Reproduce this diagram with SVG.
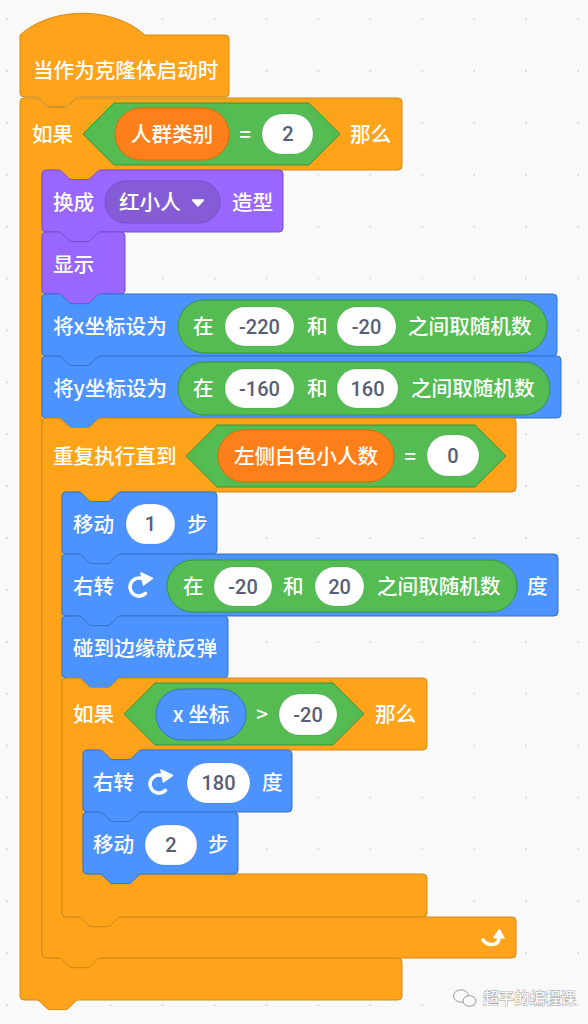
<svg xmlns="http://www.w3.org/2000/svg" width="588" height="1024" viewBox="0 0 588 1024">
<style>
.ctl{fill:#FFA31B;stroke:#CF8B17;stroke-width:1}
.lks{fill:#9966FF;stroke:#774DCB;stroke-width:1}
.mot{fill:#4C93FF;stroke:#3373CC;stroke-width:1}
.op{fill:#54BC52;stroke:#389438;stroke-width:1}
.var{fill:#FF7F1A;stroke:#DB6E00;stroke-width:1}
.dd{fill:#855CD6;stroke:#774DCB;stroke-width:1}
.inp{fill:#FFFFFF;stroke:rgba(0,0,0,0.08);stroke-width:1}
.lbl{font-family:"Noto Sans CJK SC","Noto Sans",sans-serif;font-size:20.6px;font-weight:500;fill:#FFFFFF}
.num{font-family:Roboto,"Liberation Sans",sans-serif;font-size:20px;font-weight:500;fill:#575E75;text-anchor:middle}
.mid{text-anchor:middle}
.ico{fill:none;stroke:#FFFFFF;stroke-width:3.6;stroke-linecap:round}
.icf{fill:#FFFFFF;stroke:#FFFFFF;stroke-width:1.5;stroke-linejoin:round}
.wm{font-family:"Noto Sans CJK SC",sans-serif;font-size:15.5px;font-weight:500;fill:#FAFAFA;stroke:#9A9A9A;stroke-width:0.9;paint-order:stroke}
</style>
<defs>
<pattern id="dots" x="-18.95" y="-6.95" width="51.9" height="51.9" patternUnits="userSpaceOnUse">
<circle cx="25.95" cy="25.95" r="1.1" fill="#D6D6D6"/>
</pattern>
<g id="rot">
<path class="ico" d="M 0.3,-7.7 A 9 9 0 1 0 4.4,7.4"/>
<polygon class="icf" points="0,-13 11.5,-7.5 2.5,-1"/>
</g>
</defs>
<rect width="588" height="1024" fill="#F9F9F9"/>
<rect width="588" height="1024" fill="url(#dots)"/>

<g id="connectors"/>

<g id="hat">
<path class="ctl" d="M 20,35 c 32,-29 93,-29 125,0 H 225 a4,4 0 0 1 4,4 V 93 a4,4 0 0 1 -4,4 H 79.2 c -2.4,0 -3.6,1.2 -4.8,2.4 l -4.8,4.8 c -1.2,1.2 -2.4,2.4 -4.8,2.4 h -14.4 c -2.4,0 -3.6,-1.2 -4.8,-2.4 l -4.8,-4.8 c -1.2,-1.2 -2.4,-2.4 -4.8,-2.4 H 24 a4,4 0 0 1 -4,-4 Z"/>
<text class="lbl" x="33" y="77.5">当作为克隆体启动时</text>
</g>

<g id="if-outer">
<path class="ctl" d="M 20,102 a4,4 0 0 1 4,-4 H 36 c 2.4,0 3.6,1.2 4.8,2.4 l 4.8,4.8 c 1.2,1.2 2.4,2.4 4.8,2.4 h 14.4 c 2.4,0 3.6,-1.2 4.8,-2.4 l 4.8,-4.8 c 1.2,-1.2 2.4,-2.4 4.8,-2.4 H 398 a4,4 0 0 1 4,4 V 166 a4,4 0 0 1 -4,4 H 101.2 c -2.4,0 -3.6,1.2 -4.8,2.4 l -4.8,4.8 c -1.2,1.2 -2.4,2.4 -4.8,2.4 h -14.4 c -2.4,0 -3.6,-1.2 -4.8,-2.4 l -4.8,-4.8 c -1.2,-1.2 -2.4,-2.4 -4.8,-2.4 H 46 a4,4 0 0 0 -4,4 V 954 a4,4 0 0 0 4,4 H 58 c 2.4,0 3.6,1.2 4.8,2.4 l 4.8,4.8 c 1.2,1.2 2.4,2.4 4.8,2.4 h 14.4 c 2.4,0 3.6,-1.2 4.8,-2.4 l 4.8,-4.8 c 1.2,-1.2 2.4,-2.4 4.8,-2.4 H 398 a4,4 0 0 1 4,4 V 996 a4,4 0 0 1 -4,4 H 79.2 c -2.4,0 -3.6,1.2 -4.8,2.4 l -4.8,4.8 c -1.2,1.2 -2.4,2.4 -4.8,2.4 h -14.4 c -2.4,0 -3.6,-1.2 -4.8,-2.4 l -4.8,-4.8 c -1.2,-1.2 -2.4,-2.4 -4.8,-2.4 H 24 a4,4 0 0 1 -4,-4 Z"/>
<text class="lbl" x="32" y="141.6">如果</text>
<polygon class="op" points="83,134 114,103 309,103 340,134 309,165 114,165"/>
<rect class="var" x="115" y="108" width="114" height="52" rx="26"/>
<text class="lbl mid" x="172" y="141.6">人群类别</text>
<text class="lbl mid" x="245" y="141.6">=</text>
<rect class="inp" x="262" y="114" width="51" height="40" rx="20"/>
<text class="num" x="288" y="141.2">2</text>
<text class="lbl" x="350" y="141.6">那么</text>
</g>

<g id="switch-costume">
<path class="lks" d="M 42,174 a4,4 0 0 1 4,-4 H 58 c 2.4,0 3.6,1.2 4.8,2.4 l 4.8,4.8 c 1.2,1.2 2.4,2.4 4.8,2.4 h 14.4 c 2.4,0 3.6,-1.2 4.8,-2.4 l 4.8,-4.8 c 1.2,-1.2 2.4,-2.4 4.8,-2.4 H 279 a4,4 0 0 1 4,4 V 228 a4,4 0 0 1 -4,4 H 101.2 c -2.4,0 -3.6,1.2 -4.8,2.4 l -4.8,4.8 c -1.2,1.2 -2.4,2.4 -4.8,2.4 h -14.4 c -2.4,0 -3.6,-1.2 -4.8,-2.4 l -4.8,-4.8 c -1.2,-1.2 -2.4,-2.4 -4.8,-2.4 H 46 a4,4 0 0 1 -4,-4 Z"/>
<text class="lbl" x="53" y="210">换成</text>
<rect class="dd" x="105" y="181" width="115" height="42" rx="21"/>
<text class="lbl" x="119" y="210">红小人</text>
<polygon points="192.5,200 203.5,200 198,206" fill="#FFFFFF" stroke="#FFFFFF" stroke-width="1.5" stroke-linejoin="round"/>
<text class="lbl" x="232" y="210">造型</text>
</g>

<g id="show">
<path class="lks" d="M 42,236 a4,4 0 0 1 4,-4 H 58 c 2.4,0 3.6,1.2 4.8,2.4 l 4.8,4.8 c 1.2,1.2 2.4,2.4 4.8,2.4 h 14.4 c 2.4,0 3.6,-1.2 4.8,-2.4 l 4.8,-4.8 c 1.2,-1.2 2.4,-2.4 4.8,-2.4 H 121 a4,4 0 0 1 4,4 V 290 a4,4 0 0 1 -4,4 H 101.2 c -2.4,0 -3.6,1.2 -4.8,2.4 l -4.8,4.8 c -1.2,1.2 -2.4,2.4 -4.8,2.4 h -14.4 c -2.4,0 -3.6,-1.2 -4.8,-2.4 l -4.8,-4.8 c -1.2,-1.2 -2.4,-2.4 -4.8,-2.4 H 46 a4,4 0 0 1 -4,-4 Z"/>
<text class="lbl" x="53" y="272">显示</text>
</g>

<g id="set-x">
<path class="mot" d="M 42,298 a4,4 0 0 1 4,-4 H 58 c 2.4,0 3.6,1.2 4.8,2.4 l 4.8,4.8 c 1.2,1.2 2.4,2.4 4.8,2.4 h 14.4 c 2.4,0 3.6,-1.2 4.8,-2.4 l 4.8,-4.8 c 1.2,-1.2 2.4,-2.4 4.8,-2.4 H 553 a4,4 0 0 1 4,4 V 352 a4,4 0 0 1 -4,4 H 101.2 c -2.4,0 -3.6,1.2 -4.8,2.4 l -4.8,4.8 c -1.2,1.2 -2.4,2.4 -4.8,2.4 h -14.4 c -2.4,0 -3.6,-1.2 -4.8,-2.4 l -4.8,-4.8 c -1.2,-1.2 -2.4,-2.4 -4.8,-2.4 H 46 a4,4 0 0 1 -4,-4 Z"/>
<text class="lbl" x="53" y="334">将x坐标设为</text>
<rect class="op" x="178" y="300" width="369" height="53" rx="26.5"/>
<text class="lbl" x="193" y="334">在</text>
<rect class="inp" x="225" y="307" width="69" height="39" rx="19.5"/>
<text class="num" x="259.5" y="333.6">-220</text>
<text class="lbl" x="307" y="334">和</text>
<rect class="inp" x="337" y="307" width="59" height="39" rx="19.5"/>
<text class="num" x="366.5" y="333.6">-20</text>
<text class="lbl" x="408" y="334">之间取随机数</text>
</g>

<g id="set-y">
<path class="mot" d="M 42,360 a4,4 0 0 1 4,-4 H 58 c 2.4,0 3.6,1.2 4.8,2.4 l 4.8,4.8 c 1.2,1.2 2.4,2.4 4.8,2.4 h 14.4 c 2.4,0 3.6,-1.2 4.8,-2.4 l 4.8,-4.8 c 1.2,-1.2 2.4,-2.4 4.8,-2.4 H 557 a4,4 0 0 1 4,4 V 414 a4,4 0 0 1 -4,4 H 101.2 c -2.4,0 -3.6,1.2 -4.8,2.4 l -4.8,4.8 c -1.2,1.2 -2.4,2.4 -4.8,2.4 h -14.4 c -2.4,0 -3.6,-1.2 -4.8,-2.4 l -4.8,-4.8 c -1.2,-1.2 -2.4,-2.4 -4.8,-2.4 H 46 a4,4 0 0 1 -4,-4 Z"/>
<text class="lbl" x="53" y="396">将y坐标设为</text>
<rect class="op" x="178" y="362" width="372" height="53" rx="26.5"/>
<text class="lbl" x="193" y="396">在</text>
<rect class="inp" x="225" y="369" width="69" height="39" rx="19.5"/>
<text class="num" x="259.5" y="395.6">-160</text>
<text class="lbl" x="307" y="396">和</text>
<rect class="inp" x="337" y="369" width="61" height="39" rx="19.5"/>
<text class="num" x="367.5" y="395.6">160</text>
<text class="lbl" x="411" y="396">之间取随机数</text>
</g>

<g id="repeat-until">
<path class="ctl" d="M 42,422 a4,4 0 0 1 4,-4 H 58 c 2.4,0 3.6,1.2 4.8,2.4 l 4.8,4.8 c 1.2,1.2 2.4,2.4 4.8,2.4 h 14.4 c 2.4,0 3.6,-1.2 4.8,-2.4 l 4.8,-4.8 c 1.2,-1.2 2.4,-2.4 4.8,-2.4 H 512 a4,4 0 0 1 4,4 V 488 a4,4 0 0 1 -4,4 H 121.2 c -2.4,0 -3.6,1.2 -4.8,2.4 l -4.8,4.8 c -1.2,1.2 -2.4,2.4 -4.8,2.4 h -14.4 c -2.4,0 -3.6,-1.2 -4.8,-2.4 l -4.8,-4.8 c -1.2,-1.2 -2.4,-2.4 -4.8,-2.4 H 66 a4,4 0 0 0 -4,4 V 913 a4,4 0 0 0 4,4 H 78 c 2.4,0 3.6,1.2 4.8,2.4 l 4.8,4.8 c 1.2,1.2 2.4,2.4 4.8,2.4 h 14.4 c 2.4,0 3.6,-1.2 4.8,-2.4 l 4.8,-4.8 c 1.2,-1.2 2.4,-2.4 4.8,-2.4 H 512 a4,4 0 0 1 4,4 V 954 a4,4 0 0 1 -4,4 H 101.2 c -2.4,0 -3.6,1.2 -4.8,2.4 l -4.8,4.8 c -1.2,1.2 -2.4,2.4 -4.8,2.4 h -14.4 c -2.4,0 -3.6,-1.2 -4.8,-2.4 l -4.8,-4.8 c -1.2,-1.2 -2.4,-2.4 -4.8,-2.4 H 46 a4,4 0 0 1 -4,-4 Z"/>
<text class="lbl" x="53" y="463.6">重复执行直到</text>
<polygon class="op" points="186,456 217,425 475,425 506,456 475,487 217,487"/>
<rect class="var" x="218" y="430" width="176" height="52" rx="26"/>
<text class="lbl mid" x="306" y="463.6">左侧白色小人数</text>
<text class="lbl mid" x="410" y="463.6">=</text>
<rect class="inp" x="427" y="435" width="52" height="41" rx="20.5"/>
<text class="num" x="453" y="463.2">0</text>
<path class="ico" d="M 483,940 C 487,946 499,947 499,937"/>
<polygon class="icf" points="494,937.5 499.5,929.5 504,938"/>
</g>

<g id="move-1">
<path class="mot" d="M 62,496 a4,4 0 0 1 4,-4 H 78 c 2.4,0 3.6,1.2 4.8,2.4 l 4.8,4.8 c 1.2,1.2 2.4,2.4 4.8,2.4 h 14.4 c 2.4,0 3.6,-1.2 4.8,-2.4 l 4.8,-4.8 c 1.2,-1.2 2.4,-2.4 4.8,-2.4 H 213 a4,4 0 0 1 4,4 V 550 a4,4 0 0 1 -4,4 H 121.2 c -2.4,0 -3.6,1.2 -4.8,2.4 l -4.8,4.8 c -1.2,1.2 -2.4,2.4 -4.8,2.4 h -14.4 c -2.4,0 -3.6,-1.2 -4.8,-2.4 l -4.8,-4.8 c -1.2,-1.2 -2.4,-2.4 -4.8,-2.4 H 66 a4,4 0 0 1 -4,-4 Z"/>
<text class="lbl" x="73" y="532">移动</text>
<rect class="inp" x="126" y="504" width="49" height="40" rx="20"/>
<text class="num" x="150.5" y="531.4">1</text>
<text class="lbl" x="187" y="532">步</text>
</g>

<g id="turn-random">
<path class="mot" d="M 62,558 a4,4 0 0 1 4,-4 H 78 c 2.4,0 3.6,1.2 4.8,2.4 l 4.8,4.8 c 1.2,1.2 2.4,2.4 4.8,2.4 h 14.4 c 2.4,0 3.6,-1.2 4.8,-2.4 l 4.8,-4.8 c 1.2,-1.2 2.4,-2.4 4.8,-2.4 H 554 a4,4 0 0 1 4,4 V 612 a4,4 0 0 1 -4,4 H 121.2 c -2.4,0 -3.6,1.2 -4.8,2.4 l -4.8,4.8 c -1.2,1.2 -2.4,2.4 -4.8,2.4 h -14.4 c -2.4,0 -3.6,-1.2 -4.8,-2.4 l -4.8,-4.8 c -1.2,-1.2 -2.4,-2.4 -4.8,-2.4 H 66 a4,4 0 0 1 -4,-4 Z"/>
<text class="lbl" x="73" y="594">右转</text>
<use href="#rot" x="141" y="586"/>
<rect class="op" x="167" y="560" width="350" height="52" rx="26"/>
<text class="lbl" x="183" y="594">在</text>
<rect class="inp" x="214" y="567" width="58" height="39" rx="19.5"/>
<text class="num" x="243" y="593.6">-20</text>
<text class="lbl" x="283" y="594">和</text>
<rect class="inp" x="315" y="567" width="49" height="39" rx="19.5"/>
<text class="num" x="339.5" y="593.6">20</text>
<text class="lbl" x="377" y="594">之间取随机数</text>
<text class="lbl" x="527" y="594">度</text>
</g>

<g id="bounce">
<path class="mot" d="M 62,620 a4,4 0 0 1 4,-4 H 78 c 2.4,0 3.6,1.2 4.8,2.4 l 4.8,4.8 c 1.2,1.2 2.4,2.4 4.8,2.4 h 14.4 c 2.4,0 3.6,-1.2 4.8,-2.4 l 4.8,-4.8 c 1.2,-1.2 2.4,-2.4 4.8,-2.4 H 224 a4,4 0 0 1 4,4 V 674 a4,4 0 0 1 -4,4 H 121.2 c -2.4,0 -3.6,1.2 -4.8,2.4 l -4.8,4.8 c -1.2,1.2 -2.4,2.4 -4.8,2.4 h -14.4 c -2.4,0 -3.6,-1.2 -4.8,-2.4 l -4.8,-4.8 c -1.2,-1.2 -2.4,-2.4 -4.8,-2.4 H 66 a4,4 0 0 1 -4,-4 Z"/>
<text class="lbl" x="73" y="656">碰到边缘就反弹</text>
</g>

<g id="if-inner">
<path class="ctl" d="M 62,682 a4,4 0 0 1 4,-4 H 78 c 2.4,0 3.6,1.2 4.8,2.4 l 4.8,4.8 c 1.2,1.2 2.4,2.4 4.8,2.4 h 14.4 c 2.4,0 3.6,-1.2 4.8,-2.4 l 4.8,-4.8 c 1.2,-1.2 2.4,-2.4 4.8,-2.4 H 423 a4,4 0 0 1 4,4 V 746 a4,4 0 0 1 -4,4 H 142.2 c -2.4,0 -3.6,1.2 -4.8,2.4 l -4.8,4.8 c -1.2,1.2 -2.4,2.4 -4.8,2.4 h -14.4 c -2.4,0 -3.6,-1.2 -4.8,-2.4 l -4.8,-4.8 c -1.2,-1.2 -2.4,-2.4 -4.8,-2.4 H 87 a4,4 0 0 0 -4,4 V 870 a4,4 0 0 0 4,4 H 99 c 2.4,0 3.6,1.2 4.8,2.4 l 4.8,4.8 c 1.2,1.2 2.4,2.4 4.8,2.4 h 14.4 c 2.4,0 3.6,-1.2 4.8,-2.4 l 4.8,-4.8 c 1.2,-1.2 2.4,-2.4 4.8,-2.4 H 423 a4,4 0 0 1 4,4 V 913 a4,4 0 0 1 -4,4 H 121.2 c -2.4,0 -3.6,1.2 -4.8,2.4 l -4.8,4.8 c -1.2,1.2 -2.4,2.4 -4.8,2.4 h -14.4 c -2.4,0 -3.6,-1.2 -4.8,-2.4 l -4.8,-4.8 c -1.2,-1.2 -2.4,-2.4 -4.8,-2.4 H 66 a4,4 0 0 1 -4,-4 Z"/>
<text class="lbl" x="73" y="721.6">如果</text>
<polygon class="op" points="124,714 155,683 333,683 364,714 333,745 155,745"/>
<rect class="mot" x="156" y="689" width="90" height="51" rx="25.5"/>
<text class="lbl mid" x="201" y="721.6">x 坐标</text>
<text class="lbl mid" x="262" y="721.6">&gt;</text>
<rect class="inp" x="279" y="694" width="58" height="41" rx="20.5"/>
<text class="num" x="308" y="721.6">-20</text>
<text class="lbl" x="375" y="721.6">那么</text>
</g>

<g id="turn-180">
<path class="mot" d="M 83,754 a4,4 0 0 1 4,-4 H 99 c 2.4,0 3.6,1.2 4.8,2.4 l 4.8,4.8 c 1.2,1.2 2.4,2.4 4.8,2.4 h 14.4 c 2.4,0 3.6,-1.2 4.8,-2.4 l 4.8,-4.8 c 1.2,-1.2 2.4,-2.4 4.8,-2.4 H 288 a4,4 0 0 1 4,4 V 808 a4,4 0 0 1 -4,4 H 142.2 c -2.4,0 -3.6,1.2 -4.8,2.4 l -4.8,4.8 c -1.2,1.2 -2.4,2.4 -4.8,2.4 h -14.4 c -2.4,0 -3.6,-1.2 -4.8,-2.4 l -4.8,-4.8 c -1.2,-1.2 -2.4,-2.4 -4.8,-2.4 H 87 a4,4 0 0 1 -4,-4 Z"/>
<text class="lbl" x="93" y="790">右转</text>
<use href="#rot" x="161" y="783"/>
<rect class="inp" x="187" y="763" width="63" height="40" rx="20"/>
<text class="num" x="218.5" y="790.4">180</text>
<text class="lbl" x="262" y="790">度</text>
</g>

<g id="move-2">
<path class="mot" d="M 83,816 a4,4 0 0 1 4,-4 H 99 c 2.4,0 3.6,1.2 4.8,2.4 l 4.8,4.8 c 1.2,1.2 2.4,2.4 4.8,2.4 h 14.4 c 2.4,0 3.6,-1.2 4.8,-2.4 l 4.8,-4.8 c 1.2,-1.2 2.4,-2.4 4.8,-2.4 H 234 a4,4 0 0 1 4,4 V 870 a4,4 0 0 1 -4,4 H 142.2 c -2.4,0 -3.6,1.2 -4.8,2.4 l -4.8,4.8 c -1.2,1.2 -2.4,2.4 -4.8,2.4 h -14.4 c -2.4,0 -3.6,-1.2 -4.8,-2.4 l -4.8,-4.8 c -1.2,-1.2 -2.4,-2.4 -4.8,-2.4 H 87 a4,4 0 0 1 -4,-4 Z"/>
<text class="lbl" x="93" y="852">移动</text>
<rect class="inp" x="145" y="825" width="52" height="40" rx="20"/>
<text class="num" x="171" y="852.4">2</text>
<text class="lbl" x="208" y="852">步</text>
</g>

<g id="watermark">
<ellipse cx="461" cy="996" rx="7.5" ry="6.2" fill="#FAFAFA" stroke="#9A9A9A" stroke-width="1"/>
<ellipse cx="469.5" cy="1001" rx="6.5" ry="5.3" fill="#FAFAFA" stroke="#9A9A9A" stroke-width="1"/>
<text class="wm" x="483" y="1004">超平的编程课</text>
</g>
</svg>
